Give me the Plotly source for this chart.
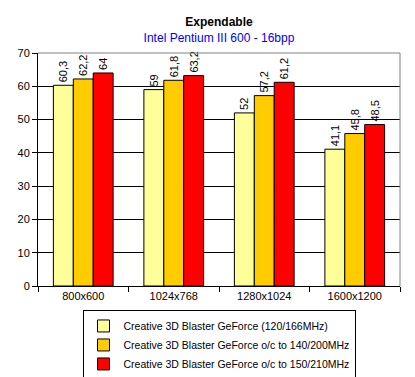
import plotly.graph_objects as go

categories = ["800x600", "1024x768", "1280x1024", "1600x1200"]
series_names = [
    "Creative 3D Blaster GeForce (120/166MHz)",
    "Creative 3D Blaster GeForce o/c to 140/200MHz",
    "Creative 3D Blaster GeForce o/c to 150/210MHz",
]
stock = [60.3, 59, 52, 41.1]
oc140 = [62.2, 61.8, 57.2, 45.8]
oc150 = [64, 63.2, 61.2, 48.5]
colors = ["#FFFF99", "#FFCC00", "#FF0000"]
y_ticks = [0, 10, 20, 30, 40, 50, 60, 70]

def lab(v):
    return ("%g" % v).replace(".", ",")

font = "Liberation Sans, Arial, sans-serif"
fig = go.Figure()
for name, vals, c in zip(series_names, [stock, oc140, oc150], colors):
    fig.add_trace(go.Bar(
        x=categories, y=vals, name=name,
        marker=dict(color=c, line=dict(color="black", width=1)),
        text=[lab(v) for v in vals], textposition="outside", textangle=-90,
        textfont=dict(size=11, color="black", family=font),
        constraintext="none", cliponaxis=False,
    ))

fig.update_layout(
    width=415, height=377,
    margin=dict(l=38, r=15, t=53, b=91, autoexpand=False),
    paper_bgcolor="white", plot_bgcolor="white",
    barmode="group", bargap=0.34, bargroupgap=0,
    font=dict(family=font, size=11, color="black"),
    title=dict(
        text="<b>Expendable</b><br><span style='color:#0000FF;font-size:12px'>Intel Pentium III 600 - 16bpp</span>",
        x=0.5, xanchor="center", xref="paper", yref="container", y=0.931, yanchor="top",
        font=dict(size=12, color="black", family=font),
    ),
    showlegend=True,
    legend=dict(
        x=0.5, xanchor="center", y=-0.105, yanchor="top",
        bordercolor="black", borderwidth=1, bgcolor="white",
        font=dict(size=10.5, family=font), tracegroupgap=0,
        itemwidth=30,
    ),
    xaxis=dict(
        showline=True, linecolor="black", linewidth=1,
        ticks="outside", tickson="boundaries", ticklen=5, tickcolor="black",
        showgrid=False, tickfont=dict(size=11),
    ),
    yaxis=dict(
        range=[0, 70], tickvals=y_ticks,
        showline=True, linecolor="black", linewidth=1,
        ticks="outside", ticklen=5, tickcolor="black",
        showgrid=True, gridcolor="black", gridwidth=1,
        zeroline=False, tickfont=dict(size=11),
    ),
    shapes=[
        dict(type="line", xref="paper", yref="paper", x0=0, x1=1, y0=1, y1=1,
             line=dict(color="#808080", width=1), layer="above"),
        dict(type="line", xref="paper", yref="paper", x0=1, x1=1, y0=0, y1=1,
             line=dict(color="#808080", width=1), layer="above"),
    ],
)

fig.write_html(
    "out.html",
    config={"displayModeBar": False},
    post_script="document.body.style.margin='0';document.body.style.overflow='hidden';",
)
